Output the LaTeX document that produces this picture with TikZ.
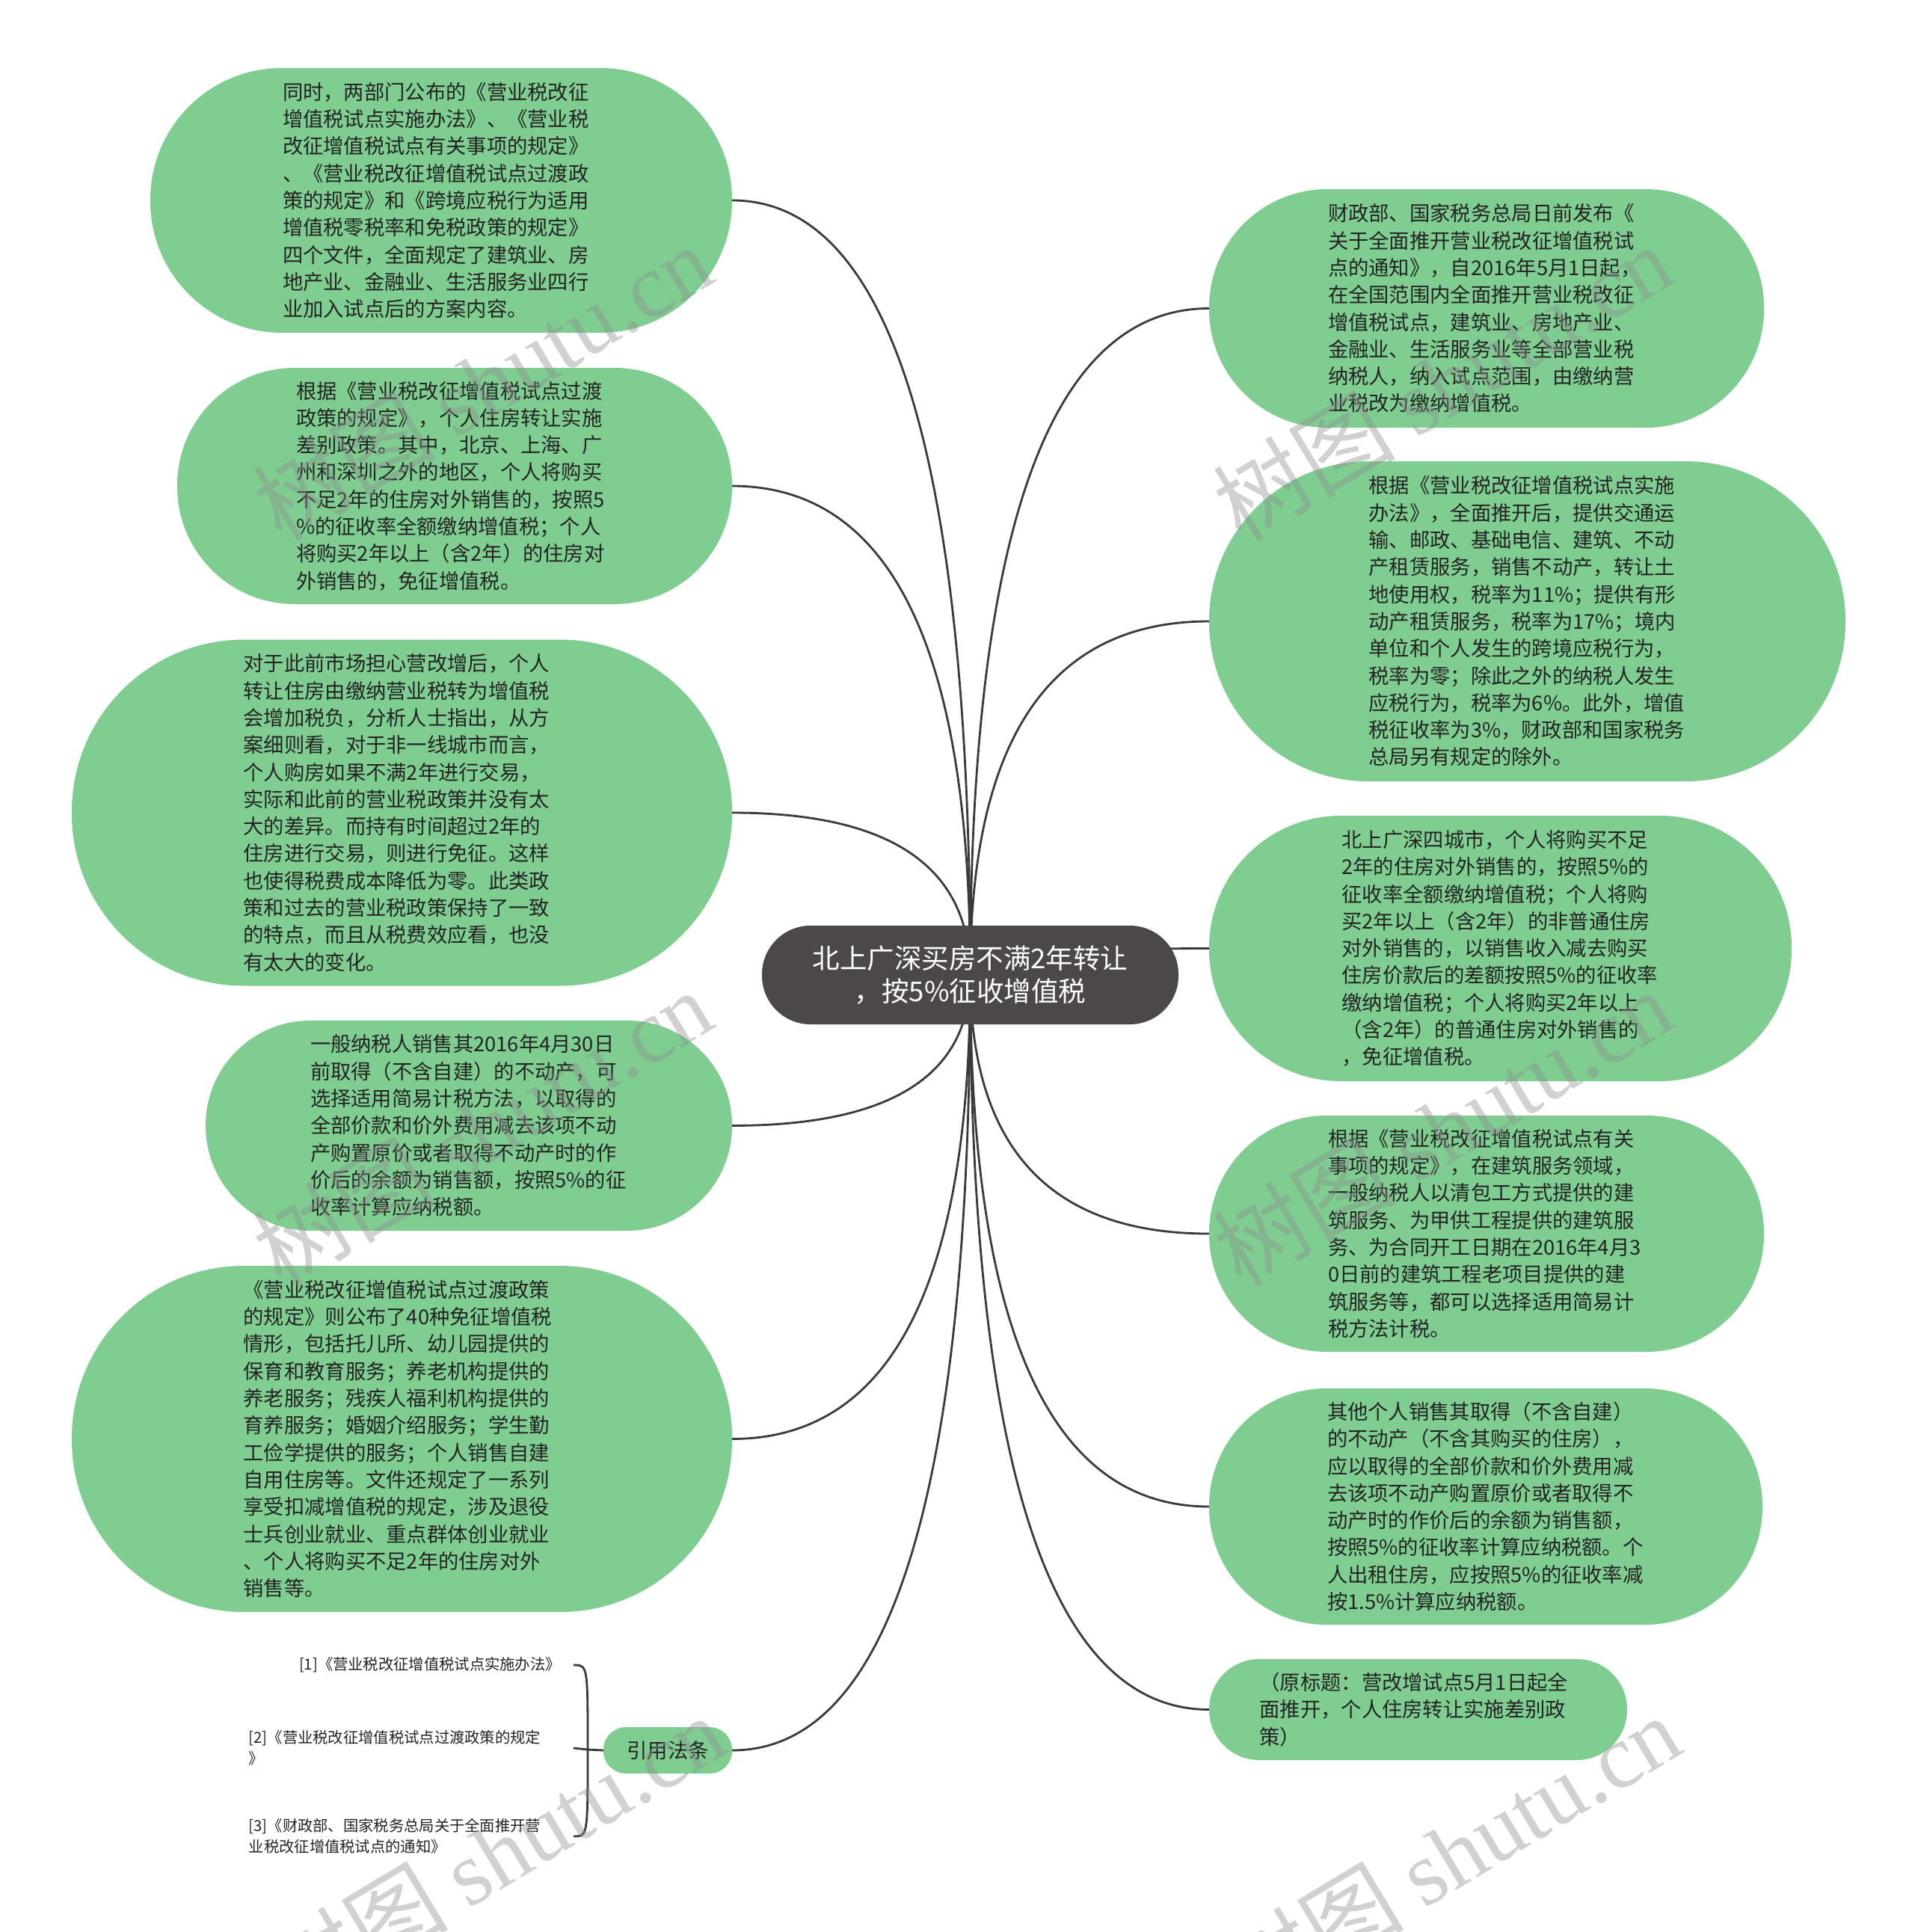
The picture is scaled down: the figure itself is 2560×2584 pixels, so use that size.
\documentclass[tikz,border=0pt]{standalone}
\usepackage{fontspec}
\setmainfont{Noto Sans CJK SC}
\newfontfamily\wmlatin{Liberation Serif}
\usetikzlibrary{calc}
\pgfdeclarelayer{back}
\pgfsetlayers{back,main}
\definecolor{leaf}{RGB}{127,205,145}
\definecolor{rootc}{RGB}{77,72,72}
\definecolor{linec}{RGB}{58,58,58}
\definecolor{txt}{RGB}{35,35,35}
\definecolor{wm}{RGB}{140,140,140}
\tikzset{
  leafbox/.style={fill=leaf, inner sep=0pt, text width=424pt, align=left, text=txt, font=\fontsize{27.3}{36.3}\selectfont},
  rootbox/.style={fill=rootc, inner sep=0pt, align=center, text=white, font=\fontsize{36.5}{44}\selectfont},
  citebox/.style={inner xsep=17pt, inner ysep=0pt, align=left, text=txt, font=\fontsize{20.3}{28}\selectfont, anchor=east},
  conn/.style={draw=linec, line width=2.8pt},
  wmark/.style={text=wm, text opacity=0.4, rotate=31, inner sep=0pt, font=\fontsize{122}{122}\selectfont},
}
\begin{document}
\begin{tikzpicture}[x=1pt,y=-1pt]
\begin{pgfonlayer}{back}
\fill[white] (0,0) rectangle (2560,2584);
\end{pgfonlayer}
\useasboundingbox (0,0) rectangle (2560,2584);

% root
\node[rootbox, minimum width=557pt, minimum height=132pt, rounded corners=65pt] (root) at (1297.5,1304)
  {北上广深买房不满2年转让\\，按5\%征收增值税};

% left side
\node[leafbox, minimum width=778pt, minimum height=354pt, rounded corners=176pt] (L1) at (590,268) {同时，两部门公布的《营业税改征\\
增值税试点实施办法》、《营业税\\
改征增值税试点有关事项的规定》\\
、《营业税改征增值税试点过渡政\\
策的规定》和《跨境应税行为适用\\
增值税零税率和免税政策的规定》\\
四个文件，全面规定了建筑业、房\\
地产业、金融业、生活服务业四行\\
业加入试点后的方案内容。};

\node[leafbox, minimum width=742pt, minimum height=316pt, rounded corners=157pt] (L2) at (608,650) {根据《营业税改征增值税试点过渡\\
政策的规定》，个人住房转让实施\\
差别政策。其中，北京、上海、广\\
州和深圳之外的地区，个人将购买\\
不足2年的住房对外销售的，按照5\\
\%的征收率全额缴纳增值税；个人\\
将购买2年以上（含2年）的住房对\\
外销售的，免征增值税。};

\node[leafbox, minimum width=883pt, minimum height=463pt, rounded corners=230pt] (L3) at (537.5,1087) {对于此前市场担心营改增后，个人\\
转让住房由缴纳营业税转为增值税\\
会增加税负，分析人士指出，从方\\
案细则看，对于非一线城市而言，\\
个人购房如果不满2年进行交易，\\
实际和此前的营业税政策并没有太\\
大的差异。而持有时间超过2年的\\
住房进行交易，则进行免征。这样\\
也使得税费成本降低为零。此类政\\
策和过去的营业税政策保持了一致\\
的特点，而且从税费效应看，也没\\
有太大的变化。};

\node[leafbox, minimum width=704pt, minimum height=281pt, rounded corners=140pt] (L4) at (627,1505.5) {一般纳税人销售其2016年4月30日\\
前取得（不含自建）的不动产，可\\
选择适用简易计税方法，以取得的\\
全部价款和价外费用减去该项不动\\
产购置原价或者取得不动产时的作\\
价后的余额为销售额，按照5\%的征\\
收率计算应纳税额。};

\node[leafbox, minimum width=883pt, minimum height=463pt, rounded corners=230pt] (L5) at (537.5,1924.5) {《营业税改征增值税试点过渡政策\\
的规定》则公布了40种免征增值税\\
情形，包括托儿所、幼儿园提供的\\
保育和教育服务；养老机构提供的\\
养老服务；残疾人福利机构提供的\\
育养服务；婚姻介绍服务；学生勤\\
工俭学提供的服务；个人销售自建\\
自用住房等。文件还规定了一系列\\
享受扣减增值税的规定，涉及退役\\
士兵创业就业、重点群体创业就业\\
、个人将购买不足2年的住房对外\\
销售等。};

\node[fill=leaf, inner sep=0pt, text=txt, font=\fontsize{27.3}{36.3}\selectfont, minimum width=172pt, minimum height=62pt, rounded corners=30pt] (L6) at (893,2341) {引用法条};

% citations
\node[citebox] (c1) at (767,2227) {[1]《营业税改征增值税试点实施办法》};
\node[citebox, text width=417pt] (c2) at (767,2338) {[2]《营业税改征增值税试点过渡政策的规定\\》};
\node[citebox, text width=417pt] (c3) at (767,2456) {[3]《财政部、国家税务总局关于全面推开营\\业税改征增值税试点的通知》};
\coordinate (j) at (786,2340);

% right side
\node[leafbox, minimum width=742pt, minimum height=319pt, rounded corners=158pt] (R1) at (1988,412.5) {财政部、国家税务总局日前发布《\\
关于全面推开营业税改征增值税试\\
点的通知》，自2016年5月1日起，\\
在全国范围内全面推开营业税改征\\
增值税试点，建筑业、房地产业、\\
金融业、生活服务业等全部营业税\\
纳税人，纳入试点范围，由缴纳营\\
业税改为缴纳增值税。};

\node[leafbox, minimum width=851pt, minimum height=428pt, rounded corners=213pt] (R2) at (2042.5,831) {根据《营业税改征增值税试点实施\\
办法》，全面推开后，提供交通运\\
输、邮政、基础电信、建筑、不动\\
产租赁服务，销售不动产，转让土\\
地使用权，税率为11\%；提供有形\\
动产租赁服务，税率为17\%；境内\\
单位和个人发生的跨境应税行为，\\
税率为零；除此之外的纳税人发生\\
应税行为，税率为6\%。此外，增值\\
税征收率为3\%，财政部和国家税务\\
总局另有规定的除外。};

\node[leafbox, minimum width=779pt, minimum height=355pt, rounded corners=176pt] (R3) at (2006.5,1268.5) {北上广深四城市，个人将购买不足\\
2年的住房对外销售的，按照5\%的\\
征收率全额缴纳增值税；个人将购\\
买2年以上（含2年）的非普通住房\\
对外销售的，以销售收入减去购买\\
住房价款后的差额按照5\%的征收率\\
缴纳增值税；个人将购买2年以上\\
（含2年）的普通住房对外销售的\\
，免征增值税。};

\node[leafbox, minimum width=742pt, minimum height=316pt, rounded corners=157pt] (R4) at (1988,1650) {根据《营业税改征增值税试点有关\\
事项的规定》，在建筑服务领域，\\
一般纳税人以清包工方式提供的建\\
筑服务、为甲供工程提供的建筑服\\
务、为合同开工日期在2016年4月3\\
0日前的建筑工程老项目提供的建\\
筑服务等，都可以选择适用简易计\\
税方法计税。};

\node[leafbox, minimum width=740pt, minimum height=316pt, rounded corners=157pt] (R5) at (1987,2015) {其他个人销售其取得（不含自建）\\
的不动产（不含其购买的住房），\\
应以取得的全部价款和价外费用减\\
去该项不动产购置原价或者取得不\\
动产时的作价后的余额为销售额，\\
按照5\%的征收率计算应纳税额。个\\
人出租住房，应按照5\%的征收率减\\
按1.5\%计算应纳税额。};

\node[leafbox, minimum width=559pt, minimum height=135pt, rounded corners=67pt] (R6) at (1896.5,2286.5) {（原标题：营改增试点5月1日起全\\
面推开，个人住房转让实施差别政\\
策）};

% connectors
\begin{pgfonlayer}{back}
\foreach \c/\a in {L1/east,L2/east,L3/east,L4/east,L5/east,L6/east,R1/west,R2/west,R3/west,R4/west,R5/west,R6/west}{
  \coordinate (k\c) at (root.center |- \c.\a);
  \draw[conn] (root.center) .. controls ($(root.center)!0.667!(k\c)$) and ($(\c.\a)!0.667!(k\c)$) .. (\c.\a);
}
\draw[conn] (L6.west) -- (j);
\draw[conn] (j) .. controls (j |- c1.east) .. (c1.east);
\draw[conn] (j) -- (c2.east);
\draw[conn] (j) .. controls (j |- c3.east) .. (c3.east);
\end{pgfonlayer}

% watermarks
\node[wmark] (w1) at (645,511) {树图 {\wmlatin shutu.cn}};
\node[wmark] (w2) at (645,1508) {树图 {\wmlatin shutu.cn}};
\node[wmark] (w3) at (662,2478) {树图 {\wmlatin shutu.cn}};
\node[wmark] (w4) at (1929,511) {树图 {\wmlatin shutu.cn}};
\node[wmark] (w5) at (1929,1508) {树图 {\wmlatin shutu.cn}};
\node[wmark] (w6) at (1940,2478) {树图 {\wmlatin shutu.cn}};
\end{tikzpicture}
\end{document}
